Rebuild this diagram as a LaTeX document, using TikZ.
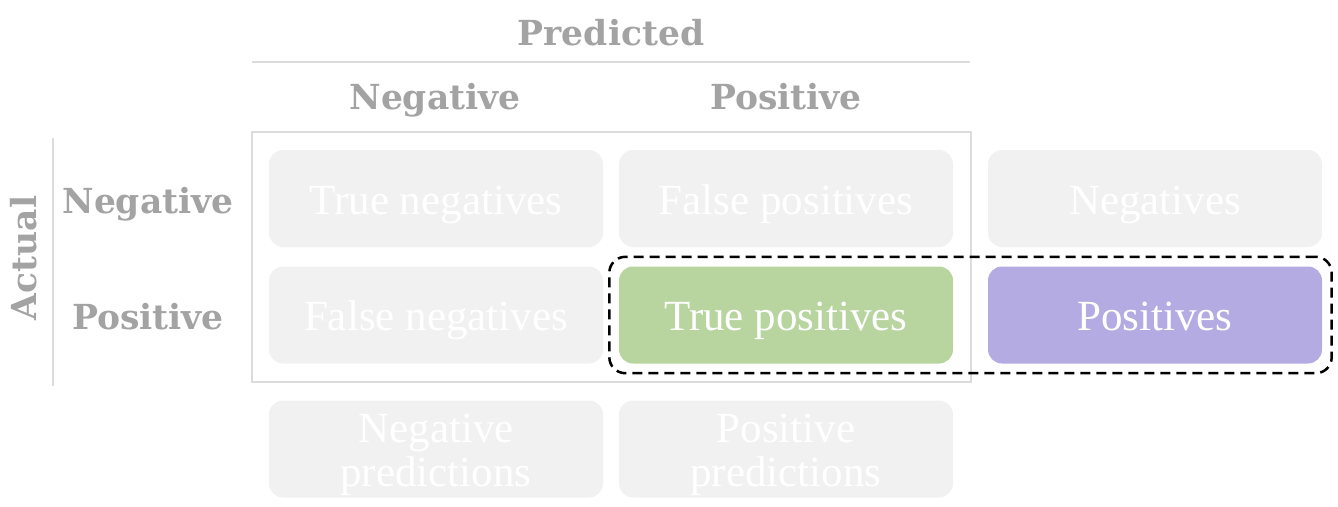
\documentclass[tikz,border=0pt]{standalone}
\usepackage{fontspec}
\setmainfont{Liberation Serif}
\newfontfamily\hdrfont{DejaVu Serif}
\usetikzlibrary{fit}
\definecolor{hdrgrey}{HTML}{A3A3A3}
\definecolor{linegrey}{HTML}{DCDCDC}
\definecolor{boxgrey}{HTML}{F1F1F1}
\definecolor{tpgreen}{HTML}{B8D5A0}
\definecolor{pospurple}{HTML}{B3ABE2}
\begin{document}
\begin{tikzpicture}[x=1pt,y=-1pt,
  box/.style={rounded corners=14pt, fill=boxgrey, minimum width=334pt, minimum height=97pt,
    text=white, font=\fontsize{43}{44}\selectfont, align=center, inner sep=0pt},
  onebox/.style={box, text height=37pt, text depth=6pt},
  twobox/.style={box, font=\fontsize{43}{44}\selectfont},
  hdr/.style={text=hdrgrey, font=\hdrfont\bfseries\fontsize{34.5}{36}\selectfont, inner sep=0pt, anchor=base},
  thin/.style={draw=linegrey, line width=1.2pt}]
\useasboundingbox (0,0) rectangle (1338,506);
% frame lines
\coordinate (ul) at (252,62);
\coordinate (ur) at (970,62);
\draw[thin] (ul) -- (ur);
\coordinate (vt) at (53,138);
\coordinate (vb) at (53,386);
\draw[thin] (vt) -- (vb);
\node[thin, draw, minimum width=719pt, minimum height=250pt, inner sep=0pt] (frame) at (611.5,257) {};
% headers
\node[hdr] (pred) at (611,45) {Predicted};
\node[hdr] (hneg) at (435,109) {Negative};
\node[hdr] (hpos) at (786,109) {Positive};
\node[hdr] (rneg) at (148,213) {Negative};
\node[hdr] (rpos) at (148,329) {Positive};
\node[hdr, rotate=90] (act) at (36,258) {Actual};
% boxes
\node[onebox] (tn) at (436,198.5) {True negatives};
\node[onebox] (fp) at (786,198.5) {False positives};
\node[onebox] (neg) at (1155,198.5) {Negatives};
\node[onebox] (fn) at (436,315) {False negatives};
\node[onebox, fill=tpgreen] (tp) at (786,315) {True positives};
\node[onebox, fill=pospurple] (pos) at (1155,315) {Positives};
\node[twobox] (np) at (436,449) {\rule{0pt}{40pt}Negative\\predictions};
\node[twobox] (pp) at (786,449) {\rule{0pt}{40pt}Positive\\predictions};
% dashed highlight
\node[fit=(tp)(pos), inner sep=9.5pt, draw=black, line width=2.5pt, dash pattern=on 10pt off 6pt, rounded corners=16pt] (hl) {};
\end{tikzpicture}
\end{document}
